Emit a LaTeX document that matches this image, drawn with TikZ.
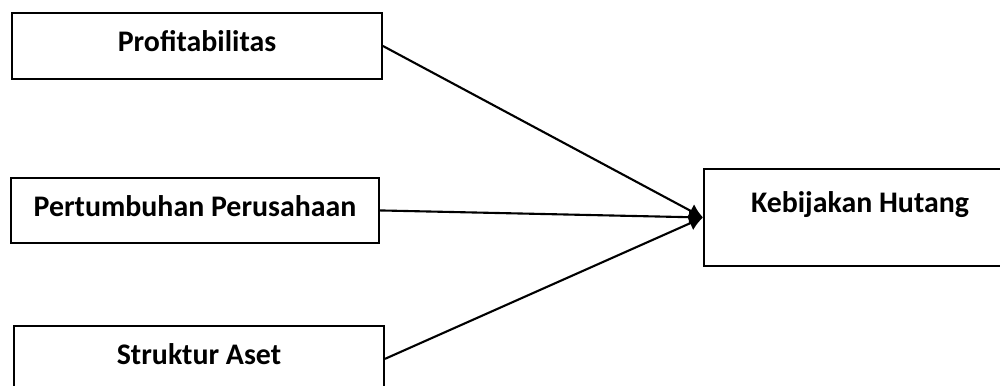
\documentclass[tikz,border=0pt]{standalone}
\usepackage{fontspec}
\setmainfont{Carlito}
\usetikzlibrary{arrows.meta,positioning}
\tikzset{
  basic/.style  = {draw, line width=1.1pt, rectangle, align=center,
                   font=\fontsize{17}{20}\selectfont\bfseries,
                   text height=0.4cm},
  varbox/.style = {basic, minimum width=7.4cm, minimum height=1.32cm,
                   text depth=0.16cm},
  depbox/.style = {basic, minimum width=6.24cm, minimum height=1.94cm,
                   text depth=0.6cm}
}
\begin{document}
\begin{tikzpicture}[>={Latex[length=0.28cm,width=0.3cm]}]
	  \clip (0,0) rectangle (20,7.7);
	  
	  % independent variables, left column
	  \node[varbox] (x1) at (3.94,6.78) {Profitabilitas};
	  \node[varbox, below=1.94cm of x1, xshift=-0.04cm, minimum width=7.36cm,
	        minimum height=1.3cm] (x2) {Pertumbuhan Perusahaan};
	  \node[varbox, below=1.62cm of x2, xshift=0.08cm] (x3) {Struktur Aset};
	  
	  % dependent variable
	  \node[depbox] (y) at (17.2,3.35) {Kebijakan Hutang};
	  
	  % arrows from every variable into the dependent one
	  \foreach \value in {1,2,3}
		\draw[->, line width=1.2pt] (x\value.east) -- (y.west);
	  
\end{tikzpicture}
\end{document}
